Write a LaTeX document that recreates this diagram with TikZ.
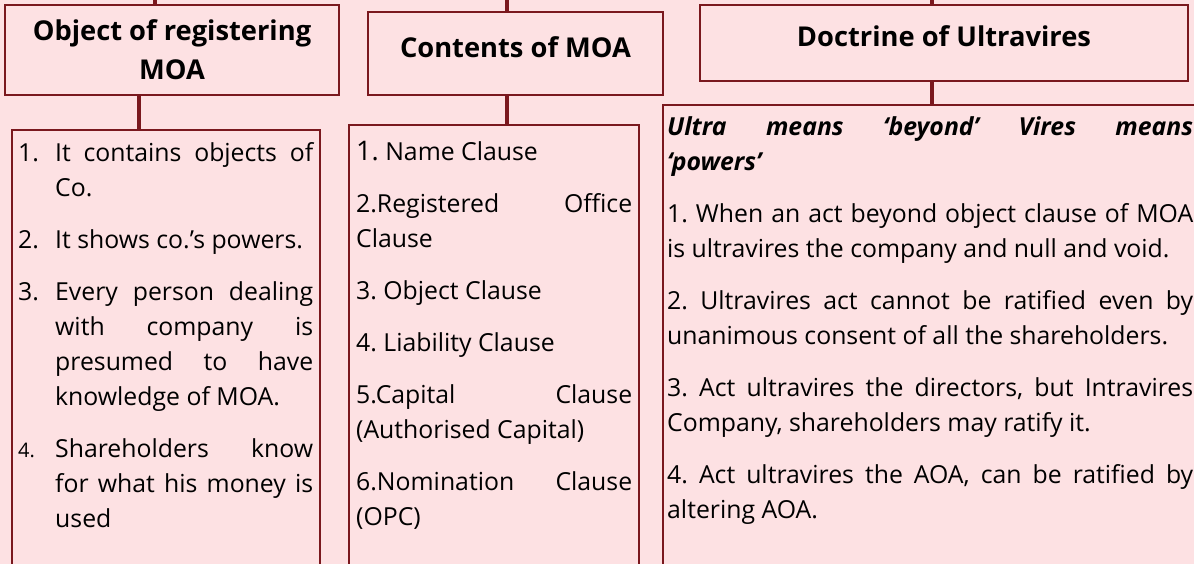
\documentclass[tikz,border=0pt]{standalone}
\usepackage{fontspec}
\setmainfont{Open Sans}
\usetikzlibrary{positioning}

\definecolor{boxred}{RGB}{122,24,30}
\definecolor{chartpink}{RGB}{253,225,227}

\newcommand{\listsetup}{\frenchspacing\setlength{\parskip}{17pt}\tolerance=10000\relax\hyphenpenalty=10000\relax\hbadness=10000\relax}
\newcommand{\hangnum}[1]{\hangindent=37pt\relax\hangafter=1\relax\noindent\makebox[37pt][l]{\strut#1}\ignorespaces}

\tikzset{%
  every heading/.style={
    draw=boxred,
    line width=2pt,
    inner sep=0pt,
    align=center,
    font=\fontsize{27.3}{39}\selectfont\bfseries
  },
  every list/.style={
    draw=boxred,
    line width=2pt,
    anchor=north west,
    inner sep=0pt
  },
  list text/.style={
    anchor=north west,
    inner sep=0pt,
    align=justify,
    font=\fontsize{24.8}{35}\selectfont
  },
}

\begin{document}
\begin{tikzpicture}[x=1pt,y=-1pt,node distance=8pt]
      \tikzstyle{link}=[draw=boxred,line width=4pt]

      \useasboundingbox (0,0) rectangle (1194,564);
      \fill[chartpink] (0,0) rectangle (1194,564);

      % headings
      \node[every heading,minimum width=334pt,minimum height=90pt] (objhead) at (172,50) {Object of registering\\MOA};
      \node[every heading,minimum width=295pt,minimum height=83pt,text height=20pt,text depth=11pt] (conthead) at (515.5,53.5) {Contents of MOA};
      \node[every heading,minimum width=488pt,minimum height=76pt,text height=20pt,text depth=12pt] (ultrahead) at (944,43) {Doctrine of Ultravires};

      % list boxes
      \node[every list,minimum width=308pt,minimum height=480pt] (objlist) at (11,129) {};
      \node[every list,minimum width=290pt,minimum height=480pt] (contlist) at (348,124) {};
      \node[every list,minimum width=560pt,minimum height=480pt] (ultralist) at (662,104) {};

      \node[list text,text width=295pt,below right=7.5pt and 7pt of objlist.north west] (objtext) {\listsetup
        \hangnum{1.}It contains objects of\linebreak Co.\par
        \hangnum{2.}It shows co.’s powers.\par
        \hangnum{3.}Every person dealing\linebreak with company is\linebreak presumed to have\linebreak knowledge of MOA.\par
        \hangnum{\fontsize{20}{35}\selectfont 4.}Shareholders know\linebreak for what his money is\linebreak used\par};

      \node[list text,text width=276pt,below right=11.5pt and 8pt of contlist.north west] (conttext) {\listsetup
        \strut{\fontsize{27}{35}\selectfont 1.} Name Clause\par
        2.Registered Office\linebreak Clause\par
        3. Object Clause\par
        4. Liability Clause\par
        5.Capital Clause\linebreak (Authorised Capital)\par
        6.Nomination Clause\linebreak (OPC)\par};

      \node[list text,text width=526pt,below right=6.5pt and 5pt of ultralist.north west] (ultratext) {\listsetup
        \strut\textbf{\textit{Ultra means ‘beyond’ Vires means\linebreak ‘powers’}}\par
        1. When an act beyond object clause of MOA\linebreak is ultravires the company and null and void.\par
        2. Ultravires act cannot be ratified even by\linebreak unanimous consent of all the shareholders.\par
        3. Act ultravires the directors, but Intravires\linebreak Company, shareholders may ratify it.\par
        4. Act ultravires the AOA, can be ratified by\linebreak altering AOA.\par};

      % connectors
      \coordinate (objtop) at (155,0);
      \coordinate (objjoin) at (139,0);
      \coordinate (conttop) at (507,0);
      \coordinate (ultratop) at (932,0);

      \draw[link] (objtop) -- (objtop |- objhead.north);
      \draw[link] (objjoin |- objhead.south) -- (objjoin |- objlist.north);
      \draw[link] (conttop) -- (conttop |- conthead.north);
      \draw[link] (conttop |- conthead.south) -- (conttop |- contlist.north);
      \draw[link] (ultratop) -- (ultratop |- ultrahead.north);
      \draw[link] (ultratop |- ultrahead.south) -- (ultratop |- ultralist.north);
\end{tikzpicture}
\end{document}
